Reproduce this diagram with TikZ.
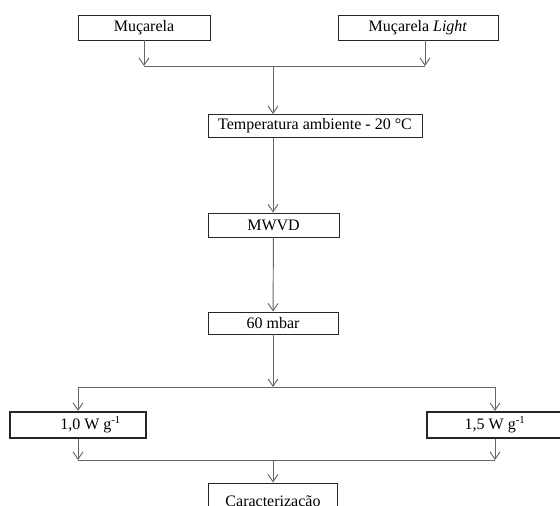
\documentclass[tikz,border=0pt]{standalone}
\usepackage{fontspec}
\setmainfont{Liberation Serif}
\usetikzlibrary{arrows.meta, positioning}

\begin{document}
\begin{tikzpicture}[
			x=0.75pt, y=-0.75pt,
			box/.style={draw=black!85, line width=0.7pt, inner sep=0pt, font=\fontsize{12}{14}\selectfont, fill=white},
			powbox/.style={box, line width=1.6pt, minimum width=102pt, minimum height=19.5pt},
			arrow/.style={-{Straight Barb[length=5.5pt, width=7.5pt]}, draw=black!60, line width=0.7pt},
			link/.style={draw=black!60, line width=0.7pt}
		]
		\useasboundingbox (0,0) rectangle (560,506);
		\clip (0,0) rectangle (560,506);

		\node[box, minimum width=99pt, minimum height=18.75pt] (muc) at (144,27.5) {Muçarela};
		\node[box, minimum width=120pt, minimum height=18.75pt] (light) at (418,27.5) {Muçarela \textit{Light}};
		\node[box, minimum width=160.5pt, minimum height=17.25pt] (temp) at (315,126) {Temperatura ambiente - 20 °C};
		\node[box, minimum width=98.25pt, minimum height=18pt] (mwvd) at (273.5,225) {MWVD};
		\node[box, minimum width=97.5pt, minimum height=16.5pt] (mbar) at (273,323) {60 mbar};
		\node[powbox] (p10) at (78,425) {\hspace*{19pt}1,0 W g\textsuperscript{-1}};
		\node[powbox] (p15) at (495,425) {1,5 W g\textsuperscript{-1}};
		\node[box, minimum width=96.75pt, minimum height=30pt] (carac) at (273,503) {Caracterização};

		\coordinate (jtop) at (273,66);
		\coordinate (jmid) at (273,387);
		\coordinate (jbot) at (273,460);
		\coordinate (lhook) at (425,66);

		\draw[arrow] (muc.south) -- (muc.south |- jtop);
		\draw[arrow] (lhook |- light.south) -- (lhook);
		\draw[link] (muc.south |- jtop) -- (lhook);
		\draw[arrow] (jtop) -- (jtop |- temp.north);
		\draw[arrow] (jtop |- temp.south) -- (jtop |- mwvd.north);
		\draw[arrow] (mwvd) -- (mbar);
		\draw[arrow] (mbar) -- (jmid);
		\draw[link] (p10.north |- jmid) -- (p15.north |- jmid);
		\draw[arrow] (p10.north |- jmid) -- (p10.north);
		\draw[arrow] (p15.north |- jmid) -- (p15.north);
		\draw[arrow] (p10.south) -- (p10.south |- jbot);
		\draw[arrow] (p15.south) -- (p15.south |- jbot);
		\draw[link] (p10.south |- jbot) -- (p15.south |- jbot);
		\draw[arrow] (jbot) -- (carac);
	\end{tikzpicture}
\end{document}
